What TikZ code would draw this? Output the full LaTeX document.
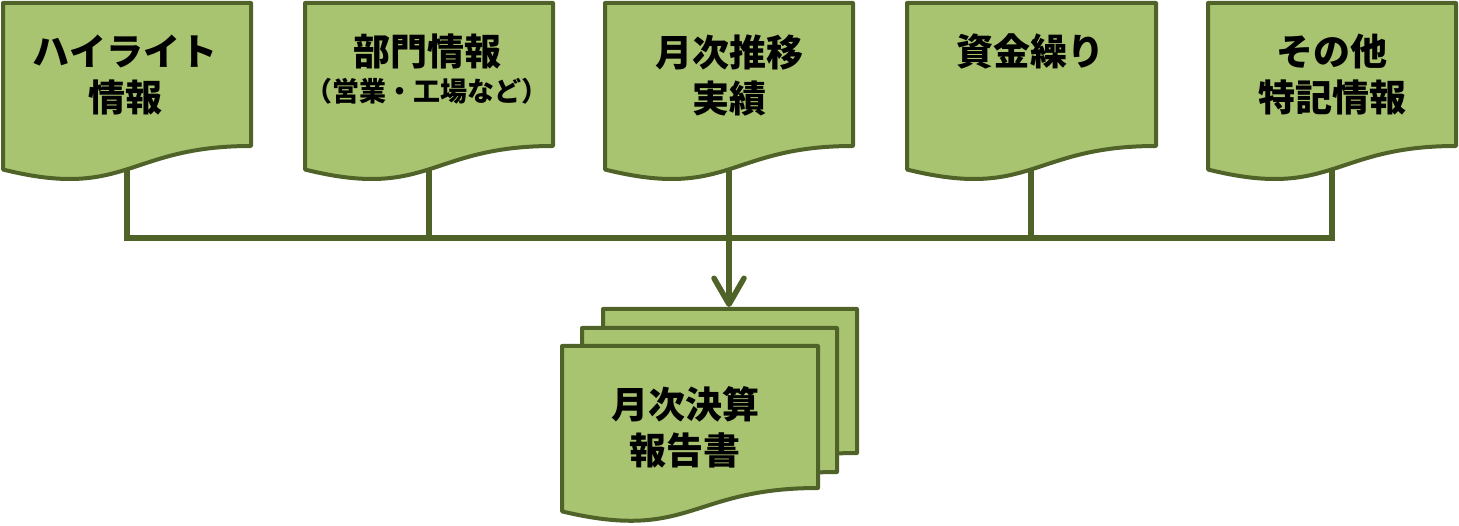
\documentclass[tikz,border=0pt]{standalone}
\usepackage{fontspec}
\newfontfamily\jpfont{Noto Sans CJK JP}
\usetikzlibrary{arrows.meta}
\definecolor{docfill}{RGB}{169,196,112}
\definecolor{docline}{RGB}{79,98,40}
\newcommand\drawdoc[4]{% left right top rightbottom
  \pgfmathsetmacro\dh{(#4-#3)/0.802}%
  \pgfmathsetmacro\dlb{#3+0.934*\dh}%
  \pgfmathsetmacro\dc{#3+1.107*\dh}%
  \pgfmathsetmacro\dm{(#1+#2)/2}%
  \draw[docshape] (#1,#3) -- (#2,#3) -- (#2,#4) .. controls (\dm,#4) and (\dm,\dc) .. (#1,\dlb) -- cycle;}
\begin{document}
\begin{tikzpicture}[x=1pt,y=-1pt,
  docshape/.style={fill=docfill,draw=docline,line width=4pt,line join=round},
  conn/.style={draw=docline,line width=5.5pt},
  lbl/.style={font=\jpfont\bfseries\fontsize{37}{46}\selectfont,align=center,inner sep=0pt,text=black},
]
\useasboundingbox (0,0) rectangle (1459,526);
% top documents
\drawdoc{3}{251}{3}{146}
\drawdoc{305}{553}{3}{146}
\drawdoc{605}{853}{3}{146}
\drawdoc{907}{1156}{3}{146}
\drawdoc{1208}{1456}{3}{146}
% stacked report
\drawdoc{603}{857}{309}{453}
\drawdoc{582}{837}{328}{472}
\drawdoc{562}{818}{346}{488}
% labels
\node[lbl] (t1) at (125,75) {ハイライト\\情報};
\node[lbl] (t2) at (427,69) {部門情報\\[-10pt]{\fontsize{27}{30}\selectfont （営業・工場など）}};
\node[lbl] (t3) at (729,75) {月次推移\\実績};
\node[lbl] (t4) at (1030,51) {資金繰り};
\node[lbl] (t5) at (1332,75) {その他\\特記情報};
\node[lbl] (tb) at (685,427) {月次決算\\報告書};
% connectors
\coordinate (s1) at (127,169);
\coordinate (s2) at (429,169);
\coordinate (s3) at (729,169);
\coordinate (s4) at (1031,169);
\coordinate (s5) at (1332,169);
\coordinate (hub) at (729,238);
\coordinate (btop) at (729,307);
\draw[conn] (s1) |- (hub) -| (s5);
\draw[conn] (s2) -- (s2 |- hub);
\draw[conn] (s4) -- (s4 |- hub);
\draw[conn,-{Straight Barb[length=26pt,width=30pt,round]}] (s3) -- (btop);
\end{tikzpicture}
\end{document}
